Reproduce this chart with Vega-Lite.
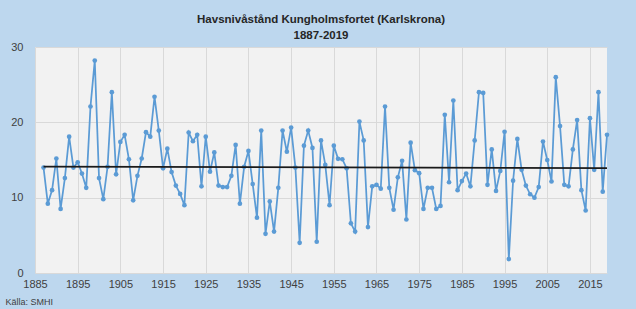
{
  "$schema": "https://vega.github.io/schema/vega-lite/v6.json",
  "autosize": {"type": "none"},
  "width": 572,
  "height": 226,
  "padding": {"left": 35, "top": 47, "right": 29, "bottom": 36},
  "background": "#BDD7EE",
  "title": {
    "text": ["Havsnivåstånd Kungholmsfortet (Karlskrona)", "1887-2019"],
    "anchor": "middle",
    "font": "Liberation Sans",
    "fontSize": 11.5,
    "fontWeight": "bold",
    "color": "#262626",
    "lineHeight": 16,
    "offset": 0
  },
  "config": {
    "view": {"fill": "#F2F2F2", "stroke": null},
    "font": "Liberation Sans",
    "axis": {
      "labelFont": "Liberation Sans",
      "labelFontSize": 11,
      "labelColor": "#404040",
      "gridColor": "#D9D9D9",
      "gridWidth": 1,
      "domain": false,
      "ticks": false
    }
  },
  "datasets": {
    "levels": [
      {"year": 1887, "value": 14.0}, {"year": 1888, "value": 9.2}, {"year": 1889, "value": 11.0},
      {"year": 1890, "value": 15.2}, {"year": 1891, "value": 8.5}, {"year": 1892, "value": 12.6},
      {"year": 1893, "value": 18.1}, {"year": 1894, "value": 14.0}, {"year": 1895, "value": 14.7},
      {"year": 1896, "value": 13.2}, {"year": 1897, "value": 11.3}, {"year": 1898, "value": 22.1},
      {"year": 1899, "value": 28.2}, {"year": 1900, "value": 12.6}, {"year": 1901, "value": 9.8},
      {"year": 1902, "value": 14.1}, {"year": 1903, "value": 24.0}, {"year": 1904, "value": 13.1},
      {"year": 1905, "value": 17.4}, {"year": 1906, "value": 18.35}, {"year": 1907, "value": 15.1},
      {"year": 1908, "value": 9.65}, {"year": 1909, "value": 12.9}, {"year": 1910, "value": 15.2},
      {"year": 1911, "value": 18.7}, {"year": 1912, "value": 18.1}, {"year": 1913, "value": 23.4},
      {"year": 1914, "value": 18.9}, {"year": 1915, "value": 13.9}, {"year": 1916, "value": 16.5},
      {"year": 1917, "value": 13.4}, {"year": 1918, "value": 11.6}, {"year": 1919, "value": 10.5},
      {"year": 1920, "value": 9.0}, {"year": 1921, "value": 18.65}, {"year": 1922, "value": 17.5},
      {"year": 1923, "value": 18.35}, {"year": 1924, "value": 11.5}, {"year": 1925, "value": 18.1},
      {"year": 1926, "value": 13.45}, {"year": 1927, "value": 16.0}, {"year": 1928, "value": 11.6},
      {"year": 1929, "value": 11.4}, {"year": 1930, "value": 11.4}, {"year": 1931, "value": 12.9},
      {"year": 1932, "value": 17.0}, {"year": 1933, "value": 9.2}, {"year": 1934, "value": 14.1},
      {"year": 1935, "value": 16.2}, {"year": 1936, "value": 11.8}, {"year": 1937, "value": 7.35},
      {"year": 1938, "value": 18.9}, {"year": 1939, "value": 5.2}, {"year": 1940, "value": 9.5},
      {"year": 1941, "value": 5.5}, {"year": 1942, "value": 11.3}, {"year": 1943, "value": 18.9},
      {"year": 1944, "value": 16.1}, {"year": 1945, "value": 19.3}, {"year": 1946, "value": 14.0},
      {"year": 1947, "value": 4.0}, {"year": 1948, "value": 16.9}, {"year": 1949, "value": 18.9},
      {"year": 1950, "value": 16.6}, {"year": 1951, "value": 4.15}, {"year": 1952, "value": 17.6},
      {"year": 1953, "value": 14.35}, {"year": 1954, "value": 9.0}, {"year": 1955, "value": 16.9},
      {"year": 1956, "value": 15.15}, {"year": 1957, "value": 15.1}, {"year": 1958, "value": 13.9},
      {"year": 1959, "value": 6.6}, {"year": 1960, "value": 5.5}, {"year": 1961, "value": 20.1},
      {"year": 1962, "value": 17.6}, {"year": 1963, "value": 6.1}, {"year": 1964, "value": 11.5},
      {"year": 1965, "value": 11.7}, {"year": 1966, "value": 11.2}, {"year": 1967, "value": 22.1},
      {"year": 1968, "value": 11.3}, {"year": 1969, "value": 8.4}, {"year": 1970, "value": 12.7},
      {"year": 1971, "value": 14.9}, {"year": 1972, "value": 7.1}, {"year": 1973, "value": 17.3},
      {"year": 1974, "value": 13.65}, {"year": 1975, "value": 13.25}, {"year": 1976, "value": 8.5},
      {"year": 1977, "value": 11.3}, {"year": 1978, "value": 11.3}, {"year": 1979, "value": 8.5},
      {"year": 1980, "value": 8.9}, {"year": 1981, "value": 21.0}, {"year": 1982, "value": 12.05},
      {"year": 1983, "value": 22.9}, {"year": 1984, "value": 11.0}, {"year": 1985, "value": 12.2},
      {"year": 1986, "value": 13.2}, {"year": 1987, "value": 11.5}, {"year": 1988, "value": 17.6},
      {"year": 1989, "value": 24.0}, {"year": 1990, "value": 23.9}, {"year": 1991, "value": 11.7},
      {"year": 1992, "value": 16.4}, {"year": 1993, "value": 10.9}, {"year": 1994, "value": 13.55},
      {"year": 1995, "value": 18.75}, {"year": 1996, "value": 1.85}, {"year": 1997, "value": 12.25},
      {"year": 1998, "value": 17.8}, {"year": 1999, "value": 13.7}, {"year": 2000, "value": 11.6},
      {"year": 2001, "value": 10.45}, {"year": 2002, "value": 10.0}, {"year": 2003, "value": 11.4},
      {"year": 2004, "value": 17.45}, {"year": 2005, "value": 15.0}, {"year": 2006, "value": 12.15},
      {"year": 2007, "value": 26.0}, {"year": 2008, "value": 19.5}, {"year": 2009, "value": 11.7},
      {"year": 2010, "value": 11.5}, {"year": 2011, "value": 16.4}, {"year": 2012, "value": 20.3},
      {"year": 2013, "value": 11.0}, {"year": 2014, "value": 8.3}, {"year": 2015, "value": 20.55},
      {"year": 2016, "value": 13.7}, {"year": 2017, "value": 24.0}, {"year": 2018, "value": 10.8},
      {"year": 2019, "value": 18.35}
    ],
    "trend": [
      {"year": 1887, "value": 14.13},
      {"year": 2019, "value": 13.92}
    ]
  },
  "layer": [
    {
      "data": {"name": "levels"},
      "mark": {
        "type": "line",
        "color": "#5B9BD5",
        "strokeWidth": 1.75,
        "point": {"filled": true, "size": 22, "color": "#5B9BD5", "opacity": 1}
      },
      "encoding": {
        "x": {
          "field": "year",
          "type": "quantitative",
          "scale": {"domain": [1885, 2019], "nice": false, "zero": false},
          "axis": {
            "values": [1885, 1895, 1905, 1915, 1925, 1935, 1945, 1955, 1965, 1975, 1985, 1995, 2005, 2015],
            "format": "d",
            "labelPadding": 5,
            "labelFlush": false,
            "labelOverlap": false,
            "title": "Källa: SMHI",
            "titleFont": "Liberation Sans",
            "titleFontSize": 9,
            "titleFontWeight": "normal",
            "titleColor": "#404040",
            "titleAnchor": "start",
            "titleAlign": "left",
            "titleBaseline": "alphabetic",
            "titleX": -30,
            "titleY": 31
          }
        },
        "y": {
          "field": "value",
          "type": "quantitative",
          "scale": {"domain": [0, 30], "nice": false},
          "axis": {
            "values": [0, 5, 10, 15, 20, 25, 30],
            "labelPadding": 12,
            "labelFlush": false,
            "title": null
          }
        }
      }
    },
    {
      "data": {"name": "trend"},
      "mark": {"type": "line", "color": "#1A1A1A", "strokeWidth": 1.75},
      "encoding": {
        "x": {"field": "year", "type": "quantitative"},
        "y": {"field": "value", "type": "quantitative"}
      }
    }
  ]
}
